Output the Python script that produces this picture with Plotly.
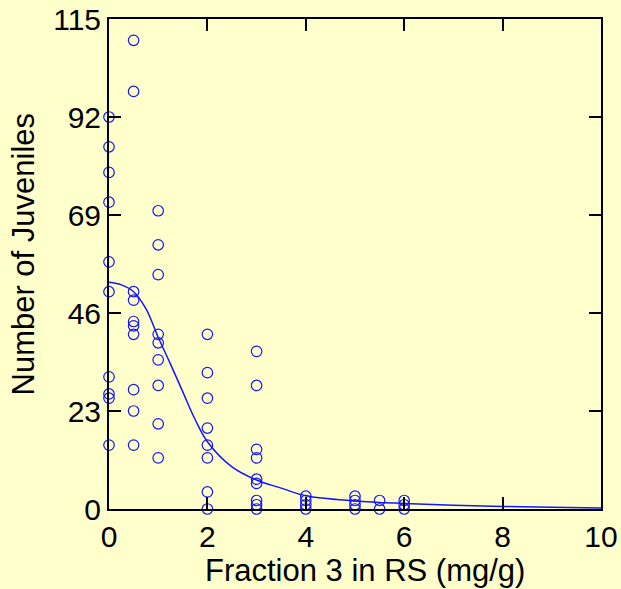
import plotly.graph_objects as go

# observed data (dose, juveniles)
dose_levels = [0, 0.5, 1, 2, 3, 4, 5, 5.5, 6]
juv_0 = [92, 85, 79, 72, 58, 51, 31, 27, 26, 15]
juv_05 = [110, 98, 51, 49, 44, 43, 41, 28, 23, 15]
juv_1 = [70, 62, 55, 41, 39, 35, 29, 20, 12]
juv_2 = [41, 32, 26, 19, 15, 12, 4, 0]
juv_3 = [37, 29, 14, 12, 7, 6, 2, 1, 0]
juv_4 = [3, 2, 1, 0]
juv_5 = [3, 2, 1, 0]
juv_55 = [2, 0]
juv_6 = [2, 1, 0]
groups = [juv_0, juv_05, juv_1, juv_2, juv_3, juv_4, juv_5, juv_55, juv_6]

# fitted curve
curve_x = [0, 0.25, 0.5, 0.75, 1, 1.25, 1.5, 1.75, 2, 2.5, 3, 3.5, 4, 5, 6, 7, 8, 9, 10]
curve_y = [53.2, 52.6, 51.0, 47.0, 40.3, 34.0, 27.5, 21.0, 15.8, 9.9, 6.8, 4.9, 3.1, 1.9, 1.3, 0.9, 0.6, 0.4, 0.25]

x_ticks = [0, 2, 4, 6, 8, 10]
y_ticks = [0, 23, 46, 69, 92, 115]
x_title = "Fraction 3 in RS (mg/g)"
y_title = "Number of Juveniles"

px, py = [], []
for d, g in zip(dose_levels, groups):
    for v in g:
        px.append(d)
        py.append(v)

BLUE = "#1414ff"
BG = "#ffffcc"
FONT = "Liberation Sans, Arial, sans-serif"

fig = go.Figure()
fig.add_trace(go.Scatter(x=curve_x, y=curve_y, mode="lines",
                         line=dict(color=BLUE, width=1.5, shape="spline"),
                         hoverinfo="skip", cliponaxis=False))
fig.add_trace(go.Scatter(x=px, y=py, mode="markers", cliponaxis=False,
                         marker=dict(symbol="circle-open", size=10.5,
                                     color=BLUE, line=dict(width=1.2, color=BLUE))))

axis_common = dict(showline=True, linecolor="black", linewidth=2, mirror="ticks",
                   ticks="inside", ticklen=12, tickwidth=2, tickcolor="black",
                   showgrid=False, zeroline=False, automargin=False,
                   tickfont=dict(family=FONT, size=30, color="black"))

fig.update_xaxes(range=[0, 10], tickvals=x_ticks, ticktext=[str(v) for v in x_ticks],
                 **axis_common)
fig.update_yaxes(range=[0, 115], tickvals=y_ticks, ticktext=[str(v) for v in y_ticks],
                 ticklabelstandoff=0, **axis_common)

title_font = dict(family=FONT, size=31, color="black")
fig.add_annotation(text=x_title, xref="paper", yref="paper", x=0.520, y=-0.1245,
                   xanchor="center", yanchor="middle", showarrow=False, font=title_font)
fig.add_annotation(text=y_title, xref="paper", yref="paper", x=-0.1728, y=0.5214,
                   xanchor="center", yanchor="middle", textangle=-90,
                   showarrow=False, font=title_font)

fig.update_layout(width=621, height=589, showlegend=False,
                  paper_bgcolor=BG, plot_bgcolor=BG,
                  margin=dict(l=109, r=20, t=19, b=80))

fig.write_html("out.html", config={"displayModeBar": False},
               post_script="document.body.style.margin='0';"
                           "document.body.style.background='#ffffcc';")
